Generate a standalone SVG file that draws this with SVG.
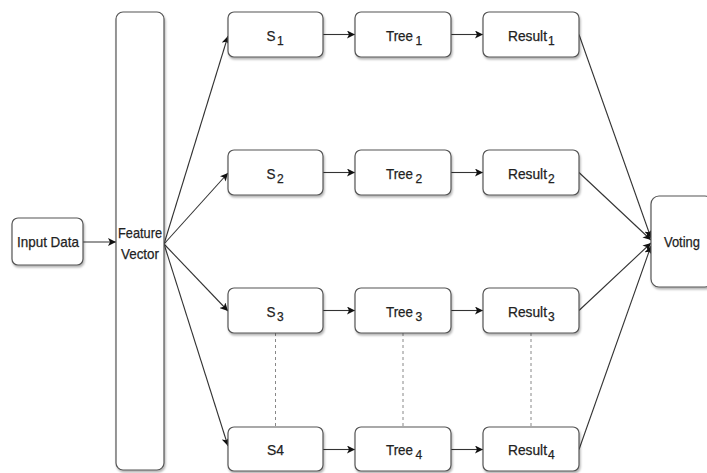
<svg xmlns="http://www.w3.org/2000/svg" width="707" height="473" viewBox="0 0 707 473">
<defs>
<filter id="sh" x="-20%" y="-20%" width="140%" height="140%">
<feDropShadow dx="1" dy="2" stdDeviation="1.3" flood-color="#000" flood-opacity="0.3"/>
</filter>
<marker id="ah" viewBox="0 0 10 10" refX="10" refY="5" markerWidth="8" markerHeight="8" markerUnits="userSpaceOnUse" orient="auto">
<path d="M0,0 L10,5 L0,10 L2.5,5 Z" fill="#111"/>
</marker>
<style>
.box{fill:#fff;stroke:#555;stroke-width:1.2;filter:url(#sh)}
.t{font-family:"Liberation Sans",Arial,sans-serif;font-size:15px;fill:#222;stroke:#222;stroke-width:0.25}
.m{text-anchor:middle}
.tr{font-size:14.5px}
.rs{font-size:14px}
.sub{font-size:12px}
.c{stroke:#333;stroke-width:1.1;fill:none;marker-end:url(#ah)}
.d{stroke:#888;stroke-width:1;stroke-dasharray:3,3;fill:none}
</style>
</defs>
<rect width="707" height="473" fill="#fff"/>
<g id="connectors">
<line class="c" x1="83" y1="242" x2="116" y2="242"/>
<line class="c" x1="164" y1="244" x2="228" y2="36"/>
<line class="c" x1="164" y1="244" x2="228" y2="173"/>
<line class="c" x1="164" y1="244" x2="228" y2="311"/>
<line class="c" x1="164" y1="244" x2="228" y2="446"/>
<line class="c" x1="323" y1="34.5" x2="355" y2="34.5"/>
<line class="c" x1="451" y1="34.5" x2="483" y2="34.5"/>
<line class="c" x1="323" y1="172.5" x2="355" y2="172.5"/>
<line class="c" x1="451" y1="172.5" x2="483" y2="172.5"/>
<line class="c" x1="323" y1="310.5" x2="355" y2="310.5"/>
<line class="c" x1="451" y1="310.5" x2="483" y2="310.5"/>
<line class="c" x1="323" y1="449.5" x2="355" y2="449.5"/>
<line class="c" x1="451" y1="449.5" x2="483" y2="449.5"/>
<line class="c" x1="579" y1="34.5" x2="651" y2="238"/>
<line class="c" x1="579" y1="172.5" x2="651" y2="240"/>
<line class="c" x1="579" y1="310.5" x2="651" y2="243"/>
<line class="c" x1="579" y1="449.5" x2="651" y2="246"/>
<line class="d" x1="275.5" y1="333" x2="275.5" y2="427"/>
<line class="d" x1="403" y1="333" x2="403" y2="427"/>
<line class="d" x1="531" y1="333" x2="531" y2="427"/>
</g>
<g id="input"><rect class="box" x="12" y="218" width="71" height="47" rx="6"/><text class="t m" x="48" y="247" textLength="62" lengthAdjust="spacingAndGlyphs">Input Data</text></g>
<g id="feature"><rect class="box" x="116" y="12" width="48" height="458" rx="7"/><text class="t m" x="140" y="238" textLength="44" lengthAdjust="spacingAndGlyphs">Feature</text><text class="t m" x="140" y="258.5" textLength="38" lengthAdjust="spacingAndGlyphs">Vector</text></g>
<g id="s1"><rect class="box" x="228" y="12" width="95" height="45" rx="6"/><text class="t" x="266.5" y="41" textLength="9" lengthAdjust="spacingAndGlyphs">S</text><text class="t sub" x="277" y="45">1</text></g>
<g id="tree1"><rect class="box" x="355" y="12" width="96" height="45" rx="6"/><text class="t tr" x="386" y="41" textLength="27" lengthAdjust="spacingAndGlyphs">Tree</text><text class="t sub" x="415.5" y="45">1</text></g>
<g id="result1"><rect class="box" x="483" y="12" width="96" height="45" rx="6"/><text class="t rs" x="508" y="41" textLength="39" lengthAdjust="spacingAndGlyphs">Result</text><text class="t sub" x="548" y="45">1</text></g>
<g id="s2"><rect class="box" x="228" y="150" width="95" height="45" rx="6"/><text class="t" x="266.5" y="179" textLength="9" lengthAdjust="spacingAndGlyphs">S</text><text class="t sub" x="277" y="183">2</text></g>
<g id="tree2"><rect class="box" x="355" y="150" width="96" height="45" rx="6"/><text class="t tr" x="386" y="179" textLength="27" lengthAdjust="spacingAndGlyphs">Tree</text><text class="t sub" x="415.5" y="183">2</text></g>
<g id="result2"><rect class="box" x="483" y="150" width="96" height="45" rx="6"/><text class="t rs" x="508" y="179" textLength="39" lengthAdjust="spacingAndGlyphs">Result</text><text class="t sub" x="548" y="183">2</text></g>
<g id="s3"><rect class="box" x="228" y="288" width="95" height="45" rx="6"/><text class="t" x="266.5" y="317" textLength="9" lengthAdjust="spacingAndGlyphs">S</text><text class="t sub" x="277" y="321">3</text></g>
<g id="tree3"><rect class="box" x="355" y="288" width="96" height="45" rx="6"/><text class="t tr" x="386" y="317" textLength="27" lengthAdjust="spacingAndGlyphs">Tree</text><text class="t sub" x="415.5" y="321">3</text></g>
<g id="result3"><rect class="box" x="483" y="288" width="96" height="45" rx="6"/><text class="t rs" x="508" y="317" textLength="39" lengthAdjust="spacingAndGlyphs">Result</text><text class="t sub" x="548" y="321">3</text></g>
<g id="s4"><rect class="box" x="228" y="427" width="95" height="44" rx="6"/><text class="t" x="267" y="455" textLength="17" lengthAdjust="spacingAndGlyphs">S4</text></g>
<g id="tree4"><rect class="box" x="355" y="427" width="96" height="44" rx="6"/><text class="t tr" x="386" y="455" textLength="27" lengthAdjust="spacingAndGlyphs">Tree</text><text class="t sub" x="415.5" y="459">4</text></g>
<g id="result4"><rect class="box" x="483" y="427" width="96" height="44" rx="6"/><text class="t rs" x="508" y="455" textLength="39" lengthAdjust="spacingAndGlyphs">Result</text><text class="t sub" x="548" y="459">4</text></g>
<g id="voting"><rect class="box" x="651" y="196" width="62" height="91" rx="8"/><text class="t m" x="682" y="247" textLength="36" lengthAdjust="spacingAndGlyphs">Voting</text></g>
</svg>
